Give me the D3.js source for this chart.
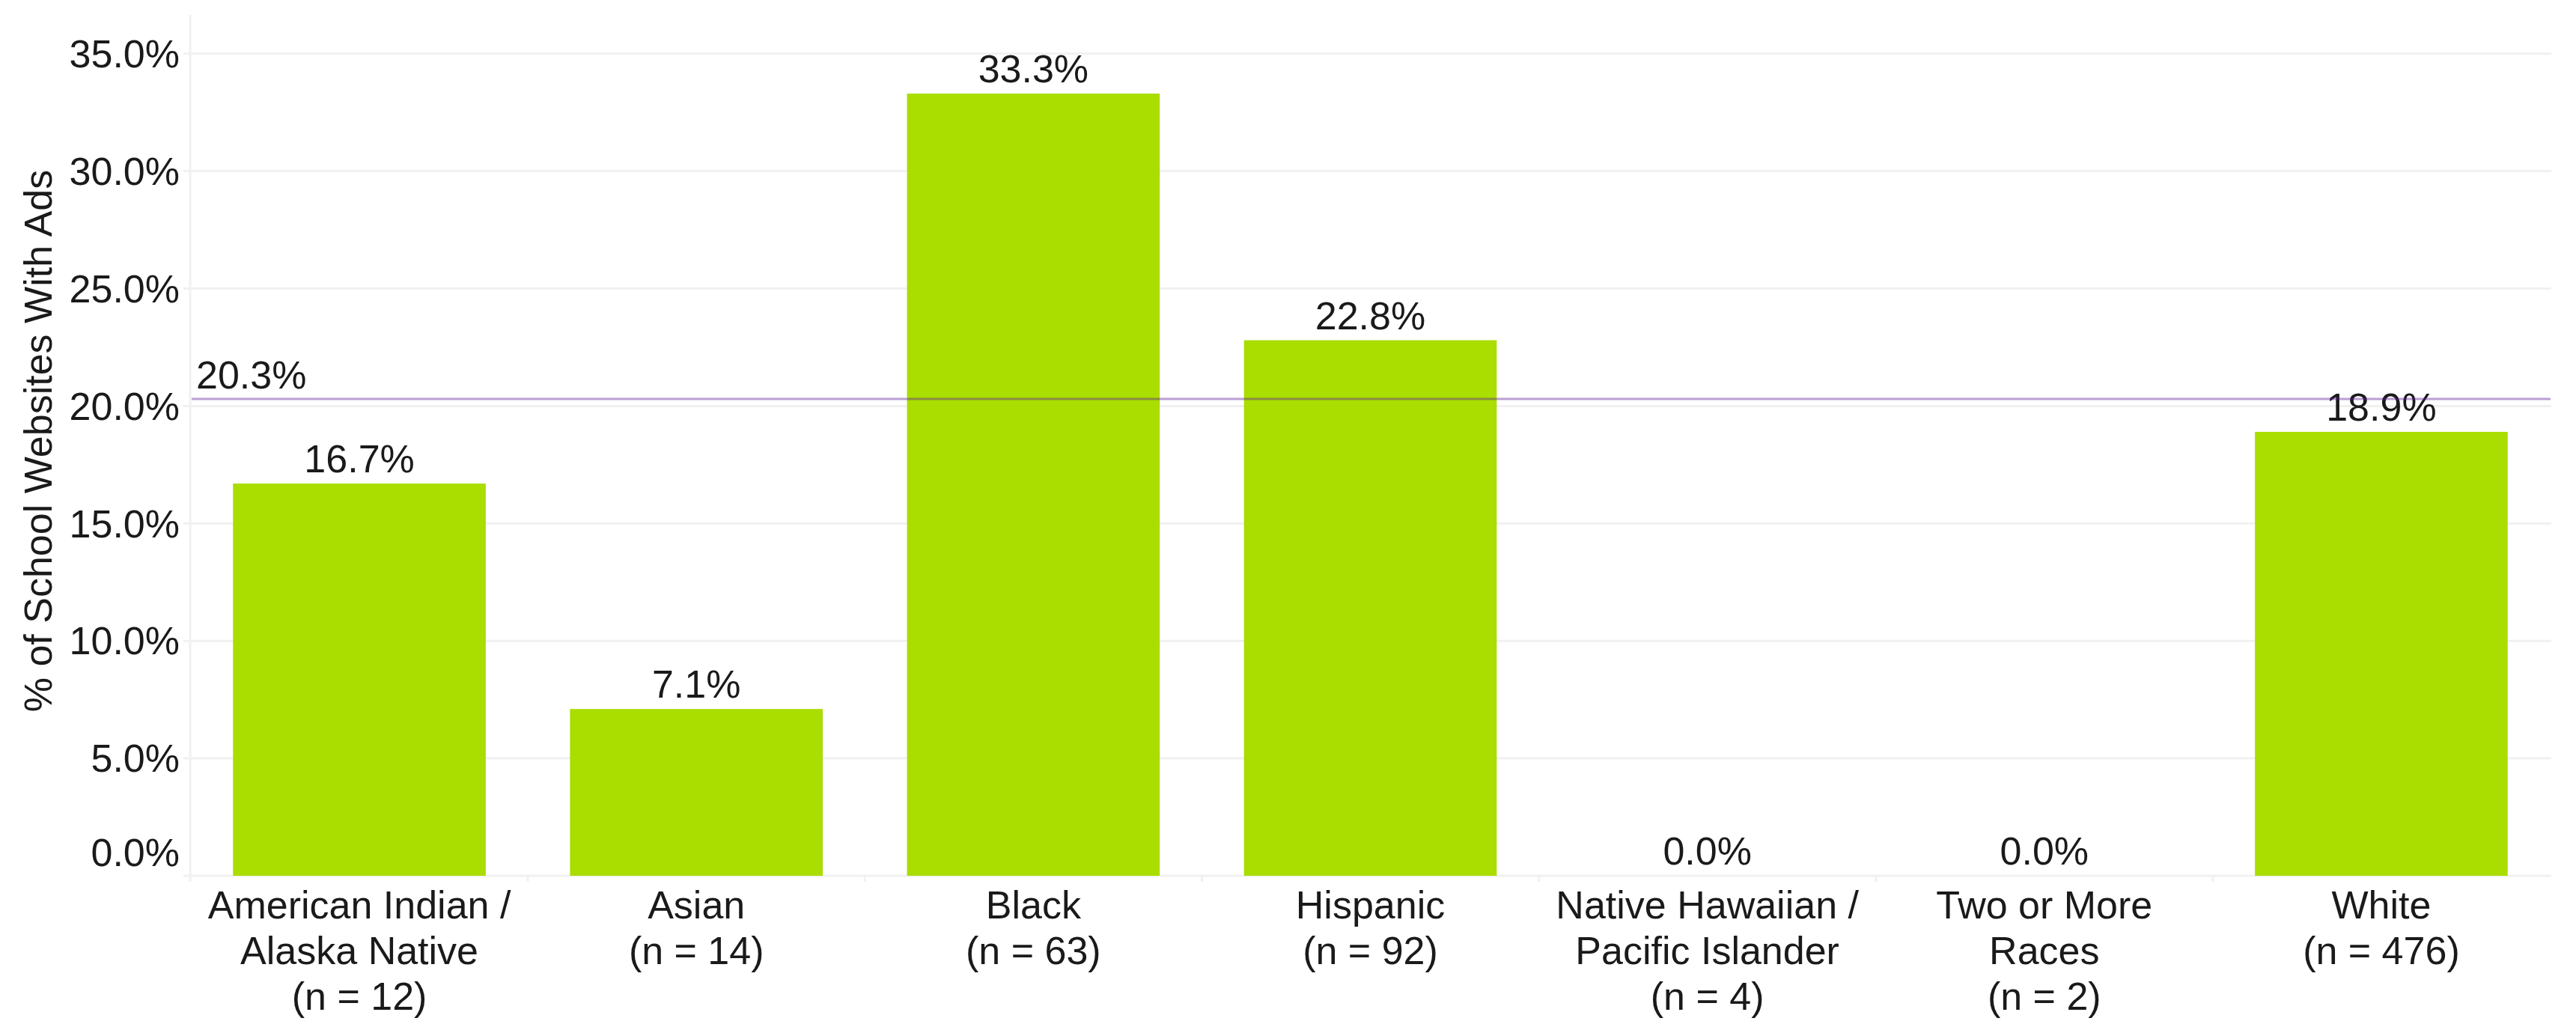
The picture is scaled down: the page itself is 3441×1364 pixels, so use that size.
<!DOCTYPE html>
<html>
<head>
<meta charset="utf-8">
<script src="https://cdn.jsdelivr.net/npm/d3@7"></script>
<style>
  html, body { margin: 0; padding: 0; background: #ffffff; }
  svg { display: block; font-family: "Liberation Sans", Arial, Helvetica, sans-serif; }
</style>
</head>
<body>
<svg id="chart" width="3441" height="1364"></svg>
<script>
// ---- data ----
const categories = [
  ["American Indian /", "Alaska Native", "(n = 12)"],
  ["Asian", "(n = 14)"],
  ["Black", "(n = 63)"],
  ["Hispanic", "(n = 92)"],
  ["Native Hawaiian /", "Pacific Islander", "(n = 4)"],
  ["Two or More", "Races", "(n = 2)"],
  ["White", "(n = 476)"]
];
const values = [16.7, 7.1, 33.3, 22.8, 0.0, 0.0, 18.9];
const yTicks = [0, 5, 10, 15, 20, 25, 30, 35];
const overallRate = 20.3;
const yTitle = "% of School Websites With Ads";

// ---- layout ----
const W = 3441, H = 1364;
const plotLeft = 255, plotRight = 3406;
const yZero = 1170, y35 = 71.7, plotTop = 20;
const barColor = "#aadd00";
const textColor = "#1a1a1a";
const gridColor = "#f1f1f1";
const fontSize = 52;

const svg = d3.select("#chart");

const keys = categories.map((c, i) => i);
const x = d3.scaleBand()
  .domain(keys)
  .range([plotLeft, plotRight])
  .paddingInner(0.25)
  .paddingOuter(0.125);

const y = d3.scaleLinear()
  .domain([0, 35])
  .range([yZero, y35]);

// gridlines
svg.append("g")
  .selectAll("line")
  .data(yTicks)
  .join("line")
  .attr("x1", plotLeft - 10)
  .attr("x2", plotRight + 2)
  .attr("y1", d => y(d))
  .attr("y2", d => y(d))
  .attr("stroke", gridColor)
  .attr("stroke-width", 3);

// y axis line
svg.append("line")
  .attr("x1", plotLeft - 1).attr("x2", plotLeft - 1)
  .attr("y1", plotTop).attr("y2", yZero + 8)
  .attr("stroke", gridColor)
  .attr("stroke-width", 3);

// x ticks at band boundaries
const bounds = keys.slice(1).map(k => x(k) - x.step() * x.paddingInner() / 2);
svg.append("g")
  .selectAll("line")
  .data(bounds)
  .join("line")
  .attr("x1", d => d).attr("x2", d => d)
  .attr("y1", yZero).attr("y2", yZero + 8)
  .attr("stroke", gridColor)
  .attr("stroke-width", 3);

// y tick labels
svg.append("g")
  .selectAll("text")
  .data(yTicks)
  .join("text")
  .attr("x", 240)
  .attr("y", d => y(d) + (d === 0 ? -31 : 0))
  .attr("dy", "0.35em")
  .attr("text-anchor", "end")
  .attr("font-size", fontSize)
  .attr("fill", textColor)
  .text(d => d.toFixed(1) + "%");

// y title
svg.append("text")
  .attr("transform", `translate(69, ${(plotTop + yZero) / 2 - 6}) rotate(-90)`)
  .attr("text-anchor", "middle")
  .attr("font-size", fontSize)
  .attr("fill", textColor)
  .text(yTitle);

// bars
svg.append("g")
  .selectAll("rect")
  .data(values)
  .join("rect")
  .attr("x", (d, i) => x(i))
  .attr("width", x.bandwidth())
  .attr("y", d => y(d))
  .attr("height", d => yZero - y(d))
  .attr("fill", barColor);

// value labels
svg.append("g")
  .selectAll("text")
  .data(values)
  .join("text")
  .attr("x", (d, i) => x(i) + x.bandwidth() / 2)
  .attr("y", d => y(d) - 15)
  .attr("text-anchor", "middle")
  .attr("font-size", fontSize)
  .attr("fill", textColor)
  .text(d => d.toFixed(1) + "%");

// category labels
const catG = svg.append("g");
categories.forEach((lines, i) => {
  const t = catG.append("text")
    .attr("x", x(i) + x.bandwidth() / 2)
    .attr("y", 1227)
    .attr("text-anchor", "middle")
    .attr("font-size", fontSize)
    .attr("fill", textColor);
  lines.forEach((ln, j) => {
    t.append("tspan")
      .attr("x", x(i) + x.bandwidth() / 2)
      .attr("y", 1227 + j * 61)
      .text(ln);
  });
});

// reference line
svg.append("line")
  .attr("x1", plotLeft + 1).attr("x2", plotRight + 1)
  .attr("y1", y(overallRate)).attr("y2", y(overallRate))
  .attr("stroke", "#5b1a9a")
  .attr("stroke-opacity", 0.42)
  .attr("stroke-width", 3);

svg.append("text")
  .attr("x", 262)
  .attr("y", y(overallRate) - 14)
  .attr("font-size", fontSize)
  .attr("fill", textColor)
  .text(overallRate.toFixed(1) + "%");
</script>
</body>
</html>
